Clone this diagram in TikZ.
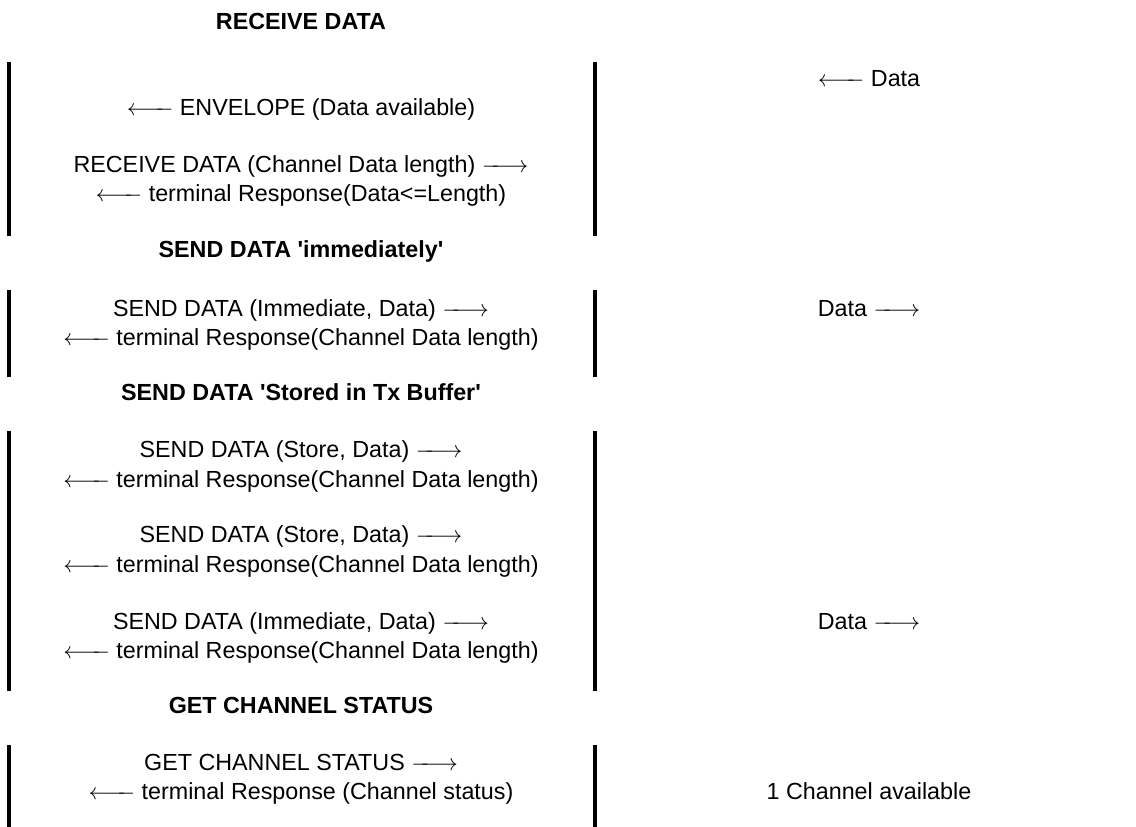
\documentclass[tikz,border=0pt]{standalone}
\usepackage{fontspec}
\setmainfont{Liberation Sans}
\newcommand\lar{\ensuremath{\leftarrow\joinrel\relbar\mkern-7mu\relbar}}
\newcommand\rar{\ensuremath{\relbar\mkern-7mu\relbar\joinrel\rightarrow}}
\newcommand\sq{\textquotesingle}
\begin{document}
\begin{tikzpicture}[x=0.4292pt,y=-0.4292pt,
  msg/.style={anchor=base,inner sep=0pt,font=\fontsize{10}{12}\selectfont},
  head/.style={anchor=base,inner sep=0pt,font=\fontsize{10}{12}\selectfont\bfseries},
  lifeline/.style={line width=1.72pt,draw=black}]
\useasboundingbox (0,0) rectangle (1136,827);
% headings
\node[head] (h1) at (301,30) {RECEIVE DATA};
\node[head] (h2) at (301,258) {SEND DATA \sq immediately\sq};
\node[head] (h3) at (301,400) {SEND DATA \sq Stored in Tx Buffer\sq};
\node[head] (h4) at (301,713) {GET CHANNEL STATUS};
% lifeline bars
\foreach \xx in {9,595}{
  \draw[lifeline] (\xx,62) -- (\xx,236);
  \draw[lifeline] (\xx,290) -- (\xx,377);
  \draw[lifeline] (\xx,431) -- (\xx,691);
  \draw[lifeline] (\xx,745) -- (\xx,830);
}
% block 1
\node[msg] (r1) at (869,87) {\lar{} Data};
\node[msg] (m1) at (301,116) {\lar{} ENVELOPE (Data available)};
\node[msg] (m2) at (301,173) {RECEIVE DATA (Channel Data length) \rar};
\node[msg] (m3) at (301,202) {\lar{} terminal Response(Data<=Length)};
% block 2
\node[msg] (m4) at (301,317) {SEND DATA (Immediate, Data) \rar};
\node[msg] (r2) at (869,317) {Data \rar};
\node[msg] (m5) at (301,346) {\lar{} terminal Response(Channel Data length)};
% block 3
\node[msg] (m6) at (301,458) {SEND DATA (Store, Data) \rar};
\node[msg] (m7) at (301,487) {\lar{} terminal Response(Channel Data length)};
\node[msg] (m8) at (301,543) {SEND DATA (Store, Data) \rar};
\node[msg] (m9) at (301,572) {\lar{} terminal Response(Channel Data length)};
\node[msg] (m10) at (301,629) {SEND DATA (Immediate, Data) \rar};
\node[msg] (r3) at (869,629) {Data \rar};
\node[msg] (m11) at (301,658) {\lar{} terminal Response(Channel Data length)};
% block 4
\node[msg] (m12) at (301,770) {GET CHANNEL STATUS \rar};
\node[msg] (m13) at (301,799) {\lar{} terminal Response (Channel status)};
\node[msg] (r4) at (869,799) {1 Channel available};
\end{tikzpicture}
\end{document}
